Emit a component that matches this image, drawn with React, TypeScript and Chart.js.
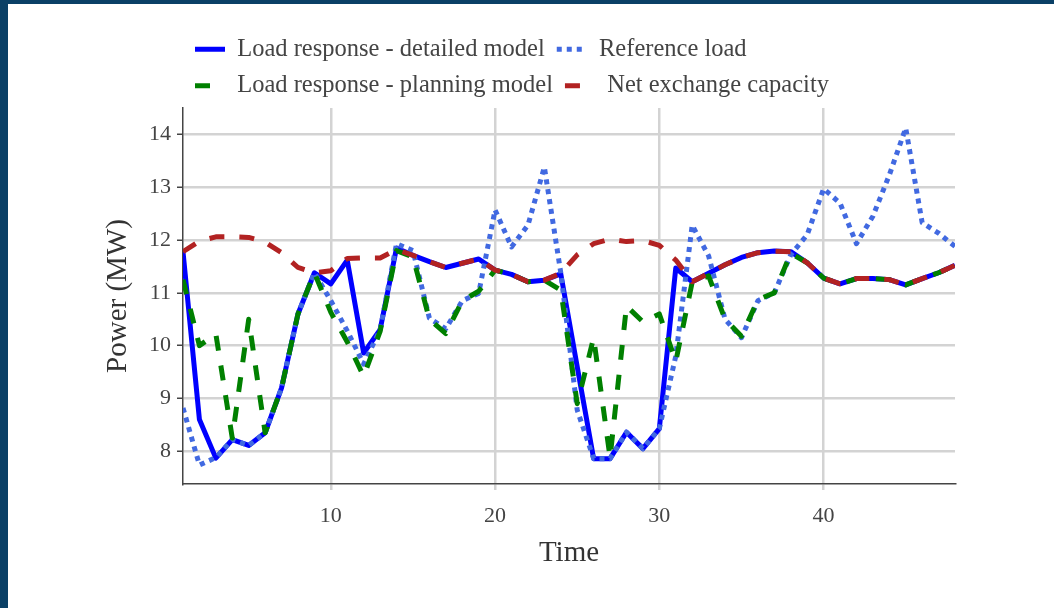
import React, { useEffect, useRef } from "react";
import { Chart, registerables } from "chart.js";

Chart.register(...registerables);

const timeSteps = [
  1, 2, 3, 4, 5, 6, 7, 8, 9, 10, 11, 12, 13, 14, 15, 16, 17, 18, 19, 20, 21, 22, 23, 24,
  25, 26, 27, 28, 29, 30, 31, 32, 33, 34, 35, 36, 37, 38, 39, 40, 41, 42, 43, 44, 45, 46, 47, 48,
];

const detailedModel = [
  11.78, 8.6, 7.87, 8.22, 8.11, 8.35, 9.2, 10.6, 11.38, 11.17, 11.62, 9.86, 10.3, 11.85, 11.71, 11.59,
  11.48, 11.56, 11.64, 11.43, 11.35, 11.21, 11.24, 11.36, 9.6, 7.86, 7.86, 8.36, 8.05, 8.43, 11.47, 11.21,
  11.37, 11.53, 11.67, 11.76, 11.79, 11.78, 11.57, 11.28, 11.17, 11.27, 11.27, 11.25, 11.15, 11.27, 11.38, 11.52,
];

const referenceLoad = [
  8.82, 7.74, 7.88, 8.22, 8.11, 8.35, 9.2, 10.6, 11.38, 10.85, 10.28, 9.65, 10.3, 11.93, 11.8, 10.52,
  10.32, 10.85, 10.99, 12.57, 11.87, 12.28, 13.38, 11.38, 8.78, 7.86, 7.86, 8.36, 8.05, 8.43, 9.8, 12.28,
  11.7, 10.5, 10.15, 10.85, 11.0, 11.72, 12.1, 12.97, 12.7, 11.93, 12.45, 13.23, 14.12, 12.33, 12.13, 11.88,
];

const planningModel = [
  11.25, 10.0, 10.22, 8.25, 10.5, 8.35, 9.2, 10.6, 11.38, 10.63, 10.07, 9.42, 10.27, 11.8, 11.68, 10.5,
  10.23, 10.85, 11.03, 11.43, 11.35, 11.21, 11.24, 11.05, 8.9, 10.15, 7.88, 10.75, 10.45, 10.6, 9.7, 11.2,
  11.32, 10.5, 10.18, 10.87, 11.0, 11.75, 11.57, 11.28, 11.17, 11.27, 11.27, 11.25, 11.15, 11.27, 11.38, 11.52,
];

const netExchangeCapacity = [
  11.78, 11.98, 12.06, 12.06, 12.05, 11.96, 11.76, 11.48, 11.38, 11.42, 11.65, 11.66, 11.66, 11.82, 11.71, 11.59,
  11.48, 11.56, 11.64, 11.43, 11.35, 11.21, 11.24, 11.37, 11.72, 11.93, 12.02, 11.97, 11.99, 11.9, 11.62, 11.21,
  11.37, 11.53, 11.67, 11.76, 11.79, 11.78, 11.57, 11.28, 11.17, 11.27, 11.27, 11.25, 11.15, 11.27, 11.38, 11.52,
];

const xTickValues = [10, 20, 30, 40];
const yTickValues = [8, 9, 10, 11, 12, 13, 14];

const SERIF = "'Liberation Serif', 'Times New Roman', serif";
const TEXT = "#444444";
const GRID = "#d3d3d3";

export default function App() {
  const canvasRef = useRef<HTMLCanvasElement | null>(null);

  useEffect(() => {
    const canvas = canvasRef.current;
    if (!canvas) return;
    const toXY = (vals: number[]) => vals.map((y, i) => ({ x: timeSteps[i], y }));
    const common = {
      borderWidth: 5,
      pointRadius: 0,
      pointHoverRadius: 0,
      tension: 0,
      fill: false,
      borderJoinStyle: "round" as const,
    };
    const defaultLabels = (Chart.defaults as any).plugins.legend.labels.generateLabels;
    const chart = new Chart(canvas, {
      type: "line",
      data: {
        datasets: [
          {
            ...common,
            label: "Load response - detailed model",
            data: toXY(detailedModel),
            borderColor: "#0000ff",
            backgroundColor: "#0000ff",
            order: 4,
          },
          {
            ...common,
            label: "Reference load",
            data: toXY(referenceLoad),
            borderColor: "#4169e1",
            backgroundColor: "#4169e1",
            borderDash: [5, 5],
            order: 3,
          },
          {
            ...common,
            label: "Load response - planning model",
            data: toXY(planningModel),
            borderColor: "#008000",
            backgroundColor: "#008000",
            borderDash: [15, 15],
            order: 2,
          },
          {
            ...common,
            label: "Net exchange capacity",
            data: toXY(netExchangeCapacity),
            borderColor: "#b22222",
            backgroundColor: "#b22222",
            borderDash: [15, 15],
            order: 1,
          },
        ],
      },
      options: {
        responsive: false,
        animation: false,
        devicePixelRatio: 1,
        layout: { padding: { top: 25, left: 8, right: 99, bottom: 0 } },
        plugins: {
          legend: {
            position: "top",
            align: "start",
            fullSize: false,
            labels: {
              usePointStyle: true,
              pointStyle: "line",
              pointStyleWidth: 30,
              padding: 12,
              color: TEXT,
              font: { family: SERIF, size: 24.5 },
              generateLabels: (c: any) =>
                defaultLabels(c).map((item: any) => {
                  const ds = c.data.datasets[item.datasetIndex];
                  return {
                    ...item,
                    lineDash: ds.borderDash || [],
                    lineWidth: ds.borderWidth,
                    strokeStyle: ds.borderColor,
                    lineCap: "butt",
                  };
                }),
              sort: (a: any, b: any) => a.datasetIndex - b.datasetIndex,
            },
          },
          tooltip: { enabled: false },
        },
        scales: {
          x: {
            type: "linear",
            min: 1,
            max: 48,
            afterBuildTicks: (s: any) => {
              s.ticks = xTickValues.map((v) => ({ value: v }));
            },
            afterFit: (s: any) => {
              s.height = 124;
            },
            grid: { color: GRID, lineWidth: 2.5, tickLength: 6, tickColor: GRID, tickWidth: 2.5 },
            border: { display: true, color: TEXT, width: 1.5 },
            ticks: { color: TEXT, padding: 13, font: { family: SERIF, size: 22 }, maxRotation: 0 },
            title: {
              display: true,
              text: "Time",
              color: "#333333",
              font: { family: SERIF, size: 29 },
              padding: { top: 0, bottom: 37.6 },
            },
          },
          y: {
            type: "linear",
            min: 7.38,
            max: 14.5,
            afterBuildTicks: (s: any) => {
              s.ticks = yTickValues.map((v) => ({ value: v }));
            },
            afterFit: (s: any) => {
              s.width = 175;
            },
            grid: { color: GRID, lineWidth: 2.5, tickLength: 6, tickColor: TEXT, tickWidth: 1.5 },
            border: { display: true, color: TEXT, width: 1.5 },
            ticks: { color: TEXT, padding: 6, font: { family: SERIF, size: 22 } },
            title: {
              display: true,
              text: "Power (MW)",
              color: "#333333",
              font: { family: SERIF, size: 29 },
              padding: { top: 93, bottom: 0 },
            },
          },
        },
      },
    });
    return () => chart.destroy();
  }, []);

  return (
    <div
      style={{
        position: "fixed",
        left: 0,
        top: 0,
        width: 1054,
        height: 608,
        background: "#0a4066",
        overflow: "hidden",
      }}
    >
      <div
        style={{ position: "absolute", left: 8, top: 4, right: 0, bottom: 0, background: "#ffffff" }}
      />
      <canvas
        ref={canvasRef}
        width={1054}
        height={608}
        style={{ position: "absolute", left: 0, top: 0, width: 1054, height: 608 }}
      />
    </div>
  );
}
